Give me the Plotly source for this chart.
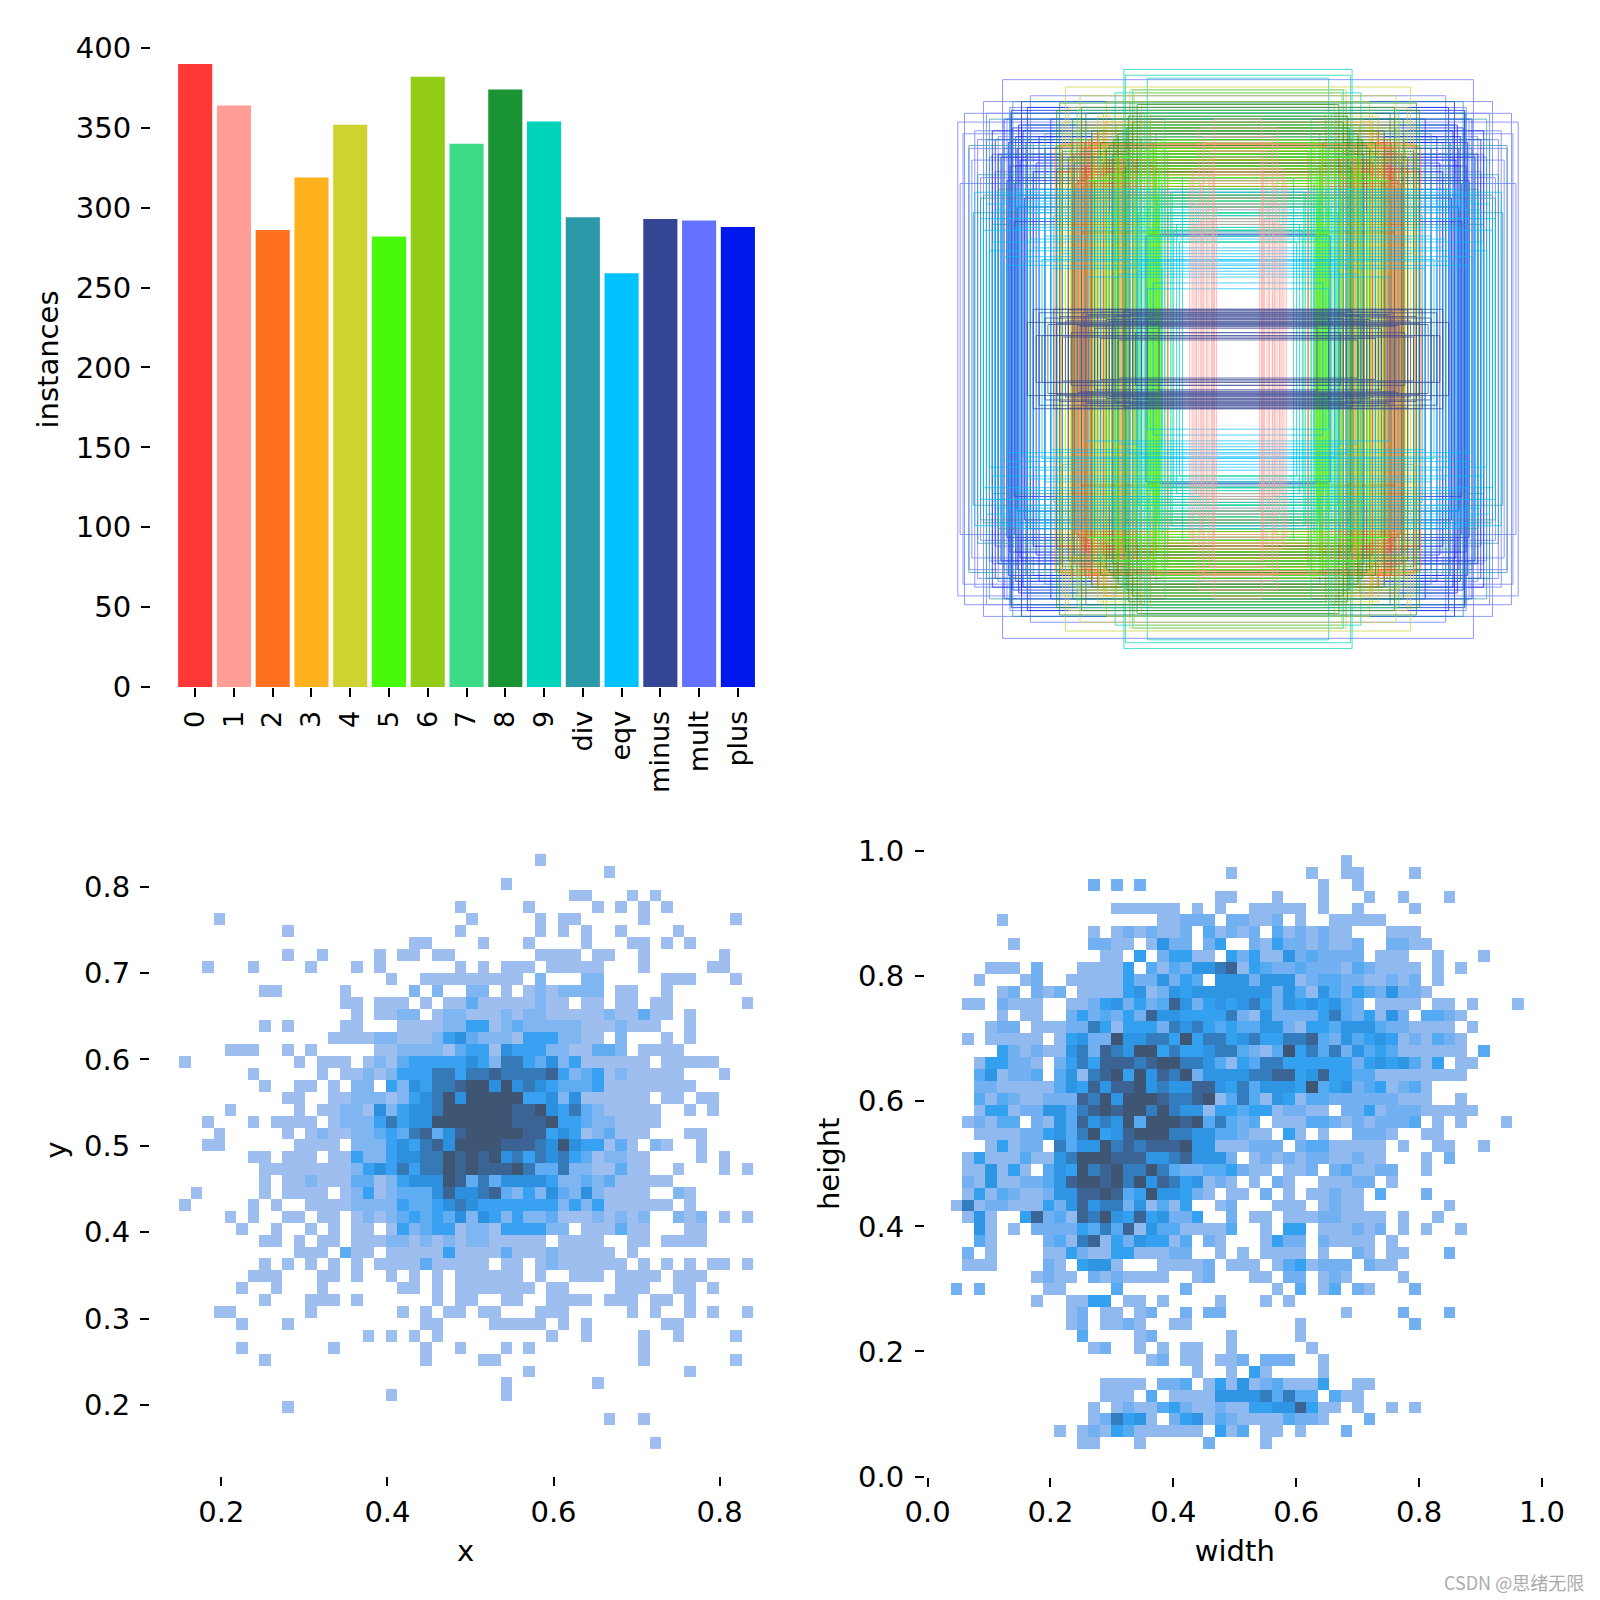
import plotly.graph_objects as go

class_names = ["0","1","2","3","4","5","6","7","8","9","div","eqv","minus","mult","plus"]
instances = [390,364,286,319,352,282,382,340,374,354,294,259,293,292,288]
class_colors = ["#FF3838","#FF9D97","#FF701F","#FFB21D","#CFD231","#48F90A","#92CC17","#3DDB86","#1A9334","#00D4BB","#2C99A8","#00C2FF","#344593","#6473FF","#0018EC"]

# box sizes per class, estimated line by line from the rectangle panel
w_0 = [.505,.52,.535,.55,.56,.53,.51,.545,.44,.47,.39,.515,.525,.56,.48,.36,.43,.54,.50,.58,.33,.41,.555,.46,.37,.525,.62,.29]
h_0 = [.61,.66,.59,.72,.70,.64,.75,.61,.68,.60,.69,.63,.74,.57,.78,.66,.62,.71,.77,.65,.59,.73,.60,.67,.72,.55,.64,.74]
w_1 = [.074,.083,.09,.099,.108,.117,.127,.134,.142,.151,.081,.106,.119,.144,.157,.165,.088,.124]
h_1 = [.52,.64,.48,.71,.55,.74,.60,.79,.53,.63,.82,.51,.76,.46,.65,.61,.69,.47]
w_2 = [.505,.515,.50,.57,.58,.605,.625,.52,.49,.45,.565,.40,.53,.43,.36,.47,.55,.33,.41,.28,.38,.24]
h_2 = [.735,.72,.70,.74,.68,.735,.725,.66,.74,.71,.62,.73,.72,.68,.72,.64,.74,.70,.60,.66,.56,.71]
w_3 = [.565,.58,.60,.44,.42,.40,.455,.61,.37,.55,.48,.345,.52,.43,.39,.50,.31,.27,.46,.35,.24,.41]
h_3 = [.60,.54,.64,.58,.70,.66,.81,.52,.62,.80,.56,.75,.61,.49,.71,.65,.72,.59,.78,.68,.63,.53]
w_4 = [.60,.59,.57,.54,.50,.46,.45,.41,.58,.355,.48,.52,.445,.56,.33,.39,.605,.43,.30,.44,.59,.37]
h_4 = [.81,.93,.78,.90,.76,.84,.88,.73,.86,.91,.83,.79,.69,.72,.87,.75,.70,.82,.85,.66,.63,.92]
w_5 = [.265,.27,.275,.28,.285,.29,.295,.30,.305,.31,.45,.44,.275,.285,.30,.33,.355,.27,.29,.31,.41,.26,.295,.28,.52,.38]
h_5 = [.42,.48,.54,.60,.66,.72,.45,.58,.52,.68,.63,.50,.56,.74,.44,.70,.55,.65,.47,.59,.69,.75,.40,.62,.61,.71]
w_6 = [.49,.48,.475,.47,.495,.41,.42,.415,.60,.455,.485,.50,.43,.465,.54,.39,.61,.36,.57,.47,.33,.405]
h_6 = [.66,.72,.78,.62,.70,.76,.64,.80,.68,.74,.61,.77,.58,.71,.79,.65,.73,.60,.75,.55,.67,.69]
w_7 = [.30,.315,.32,.335,.34,.325,.305,.31,.33,.345,.37,.395,.42,.27,.36,.25,.29,.44,.51,.55,.225,.47]
h_7 = [.44,.52,.84,.76,.50,.49,.72,.80,.54,.62,.70,.78,.58,.66,.74,.82,.50,.48,.61,.85,.57,.69]
w_8 = [.61,.60,.375,.38,.385,.425,.43,.535,.565,.50,.47,.395,.62,.36,.41,.45,.58,.44,.345,.52,.49,.56]
h_8 = [.875,.71,.83,.79,.66,.75,.70,.86,.82,.78,.74,.64,.85,.81,.77,.72,.69,.73,.87,.84,.61,.67]
w_9 = [.39,.385,.37,.36,.335,.26,.24,.22,.20,.31,.28,.345,.39,.30,.25,.19,.42,.23,.33,.21,.35,.27]
h_9 = [.99,.97,.88,.92,.84,.60,.50,.44,.40,.96,.77,.70,.80,.83,.72,.62,.91,.57,.75,.46,.66,.53]
w_div = [.92,.89,.87,.85,.83,.81,.79,.77,.75,.535,.71,.905,.86,.82,.78,.74,.64,.88,.84,.80,.76,.72,.535,.66]
h_div = [.73,.63,.56,.82,.48,.70,.60,.88,.52,.43,.78,.50,.75,.58,.84,.62,.68,.55,.46,.72,.65,.80,.435,.77]
w_eqv = [.90,.88,.86,.84,.82,.80,.78,.76,.735,.72,.70,.68,.66,.64,.62,.60,.87,.83,.79,.75,.71,.67,.63,.85,.81,.33,.345,.29,.37,.41,.47,.52,.31,.26]
h_eqv = [.57,.48,.53,.40,.56,.35,.52,.45,.335,.50,.38,.55,.42,.31,.47,.36,.44,.51,.32,.58,.41,.34,.49,.37,.54,.335,.30,.26,.325,.29,.34,.28,.24,.31]
w_minus = [.27,.31,.35,.39,.43,.47,.51,.55,.59,.63,.67,.70,.72,.33,.37,.41,.45,.49,.53,.57,.61,.65,.69,.44,.52,.60,.58,.66,.48,.36,.62,.42,.54,.68]
h_minus = [.11,.14,.09,.165,.12,.07,.15,.115,.13,.17,.08,.17,.125,.12,.155,.065,.135,.105,.16,.09,.145,.118,.08,.128,.152,.075,.168,.14,.16,.138,.122,.148,.112,.158]
w_mult = [.958,.94,.92,.90,.88,.86,.84,.82,.805,.78,.76,.74,.72,.70,.95,.91,.87,.83,.79,.75,.71,.89,.85,.935]
h_mult = [.81,.77,.72,.78,.62,.84,.70,.76,.955,.86,.66,.80,.58,.74,.60,.68,.88,.64,.82,.56,.90,.75,.69,.84]
w_plus = [.84,.82,.80,.785,.78,.775,.765,.76,.755,.75,.745,.74,.735,.73,.725,.72,.71,.70,.68,.66,.64,.62,.60,.77,.79,.81,.83,.69,.31,.315,.775,.755,.74,.765,.72]
h_plus = [.78,.70,.82,.74,.66,.84,.60,.76,.72,.80,.68,.62,.78,.55,.74,.70,.58,.64,.76,.72,.82,.65,.73,.79,.61,.69,.75,.67,.425,.42,.85,.52,.88,.47,.86]

box_w = [w_0,w_1,w_2,w_3,w_4,w_5,w_6,w_7,w_8,w_9,w_div,w_eqv,w_minus,w_mult,w_plus]
box_h = [h_0,h_1,h_2,h_3,h_4,h_5,h_6,h_7,h_8,h_9,h_div,h_eqv,h_minus,h_mult,h_plus]
draw_order = [13,14,10,9,4,3,0,2,6,8,7,5,11,1,12]

# 2D histograms, 50 rows top to bottom: "startcol:levels" runs, level read from cell shade
xy_rows = [
"31:1","37:1","28:1","34:11 39:1 41:1","24:1 30:1 36:1 38:1 40:1 42:1",
"3:1 25:1 31:1 33:11 40:1 48:1",
"9:1 24:1 31:1 33:1 35:1 38:1 43:1",
"20:11 26:1 30:1 35:1 39:11 42:1 44:1",
"9:1 12:1 17:1 19:11 22:11 31:1111 36:11 40:1 47:1",
"2:1 6:1 11:1 15:1 17:1 24:1 26:1 28:111 32:11111 40:1 46:11",
"18:1 21:111111111 31:2 35:22 42:111 48:1",
"7:11 14:1 20:2 22:2 25:22 28:1 30:12 32:1 33:22 35:22 38:11 42:1",
"14:11 17:111 21:1 23:11 25:3 26:11111 31:2 32:11 35:11 38:11 41:11 49:1",
"15:1 17:11 19:22 22:1 23:22 25:11 27:1 28:2 29:1 30:22 32:1111 36:1211 40:3 41:11 44:1",
"7:1 9:1 14:11 19:1111 23:22 25:44 27:1 28:2 29:3 30:222 33:22 35:1112111 44:1",
"13:1111 17:22 19:111 22:2 23:4 24:5 25:32 27:2 28:2 29:1 30:444 33:2 34:2 35:11 38:2 42:1 44:1",
"4:111 9:1 11:1 17:11 19:2 20:222 23:1 24:344 27:1 28:5 29:4 30:44 32:2 33:21 35:1 36:33 38:2 40:1111",
"0:1 10:1 12:111 16:1 17:2 18:1 19:3 20:4444 24:4 25:5 26:4 27:2 28:66 30:4 31:3 32:5 33:2 34:4 35:1 36:11111 42:11111",
"6:1 12:1 14:11 16:2 17:1 18:2 19:44 21:4 22:66 24:4 25:66 27:7 28:6666 32:7 33:4 34:2 35:3 36:4 37:1 38:2 39:11111 47:1",
"7:1 10:11 13:1 15:22 18:4 19:2 20:5 21:4 22:66 24:7 25:88 27:5 28:8 29:5 30:6 31:5 32:4 33:3 34:3 35:3 36:4 37:1 38:1 39:111111",
"9:11 13:1 14:122 17:212 20:4 21:5 22:6 23:8 24:5 25:888 28:8 29:8 30:4 31:4 32:5 33:2 34:5 35:1 36:1111 40:1 42:11 45:11",
"4:1 10:1 12:11 14:22 16:1 17:5 18:2 19:45 21:5 22:6 23:888888 29:7 30:7 31:8 32:5 33:4 34:6 35:3 36:2 37:11111 44:1 46:1",
"2:1 6:1 8:1111 13:1 14:22 16:2 17:4 18:6 19:4 20:55 22:888888 28:87 30:7 31:7 32:8 33:44 35:3 36:22 38:1111",
"3:1 9:1 11:12 13:11 15:22 17:3 18:4 19:3 20:6 21:7 22:3 23:5 24:7 25:88888 30:77 32:4 33:5 34:4 35:1 36:2 37:3 38:111 44:11",
"2:11 10:1111 15:222 18:4 19:54 21:6 22:7 23:5 24:8888 28:777 31:6 32:5 33:8 34:5 35:44 37:1 38:3 39:1 41:21 45:1",
"6:11 9:11 11:1 13:11 15:4 16:22 18:4 19:55 21:6 22:6 23:8 24:7 25:8 26:7 27:8 28:5 29:6 30:4 31:6 32:5 33:6 34:4 35:3 36:1 37:2 38:2 39:11 45:1 47:1",
"7:1111111 14:12 16:4 17:5 18:4 19:6 20:4 21:6 22:6 23:8 24:7 25:8 26:777 29:8 30:6 31:33 33:6 34:22 36:11 38:3 39:11 43:1 47:1 49:1",
"7:1 9:11 11:2 12:11 14:1 15:3 16:3 17:1 18:2 19:4 20:555 23:8 24:7 25:3 26:6 27:3 28:5555 32:4 33:22 35:3 36:2 37:3 38:11111",
"1:1 7:1 9:1111 14:12 16:4 17:1 18:2 19:333 22:5 23:7 24:5 25:5 26:6 27:7 28:3 29:2 30:4 31:2 32:5 33:3 34:2 35:5 36:2 37:1111 43:21",
"0:1 6:1 8:1 11:111 14:12 16:222 19:4 20:33 22:4 23:5 24:6 25:5 26:44 28:4 29:4 30:444 33:2 34:4 35:2 36:4 37:111111 44:1",
"4:1 6:1 9:11 12:11 15:12 17:1 18:2 19:3 20:4 21:3 22:4 23:3 24:5 25:2 26:5 27:4 28:2 29:4 30:22 32:3 33:111 36:21212 43:212 47:1 49:1",
"5:1 8:1 11:1 13:1 15:11 18:1 19:4 20:2 21:3 22:4 23:4 24:1 25:22 27:1 28:4444 32:2 33:2 35:11 37:1 38:3 39:11 44:11",
"7:11 10:1 12:11 15:11 17:12212 22:1 23:2 24:1 25:22 27:11111 33:1111 39:11 42:1111",
"10:111 14:3 15:11 18:1111 22:1 23:4 24:1111 28:3 29:111 32:21 34:1111 39:1",
"7:1 9:1 11:1 13:1 15:1 17:1111 21:3 22:11111 28:11 31:1 32:2 33:111111 40:1 42:1 44:1 46:11 49:1",
"6:111 12:11 15:1 18:1 20:1 22:1 24:111111 31:1 34:111 38:1111 43:111",
"5:1 8:1 12:1 19:11 22:1 24:1111111 32:11 38:111 43:11 46:1",
"7:1 11:111 15:1 22:1 24:11 28:11 32:1111 37:111 41:11 44:1",
"3:11 11:1 19:1 21:1 23:11 26:11 31:111 39:1 41:1 44:1 46:1 49:1",
"5:1 9:1 21:11 27:11111 33:1 35:1 42:11",
"16:1 18:1 20:1 22:1 32:1 35:1 40:1 43:1 48:1",
"5:1 13:1 21:1 24:1 28:1 30:1 40:1",
"7:1 21:1 26:11 40:1 48:1",
"30:1 44:1","28:1 36:1","18:1 28:1","9:1","37:1 40:1","","41:1",
]
wh_rows = [
"34:1","24:1 31:1 34:11 40:1","12:2 14:2 16:2 32:1 35:1","23:11 28:1 32:1 36:1 39:1 43:1",
"14:111111 21:1 23:1 26:11111 32:1 35:1 40:1",
"4:1 18:11222 24:22 26:11 28:2 30:1 33:11111",
"12:1 14:1212112 22:3 23:1 24:21 26:2 28:3 29:1212 33:11 38:111",
"5:1 12:22 14:11 17:1 18:5 19:22 22:2 23:4 26:2 27:1 28:4 29:22 31:1 32:2 33:11 35:2 38:22 40:11",
"13:11 16:4 18:2 19:44 21:11 24:4 25:2 26:4 27:11 29:5 30:2 31:3 32:2222 37:111 42:1 46:1",
"3:111 7:2 11:11 13:11 15:4 17:3 18:1 19:3 20:2 21:55 23:6 24:7 25:1 26:4 27:3 28:22 30:3 31:222 34:1 35:3 36:2 37:1111 42:1 44:1",
"2:1 6:12 10:11111 15:4 16:22 18:5 19:2 20:4 21:3 23:555 26:2 27:5 28:55 30:1 31:2 32:33 34:22 36:1 37:1212 42:1",
"4:12 7:2 8:12 11:1 12:11 14:1 15:45 17:12 19:5 20:4 21:55 23:5555 27:5 28:2 29:5 30:3 31:1 32:5 33:3 34:2 35:4 36:3 37:2 38:5 39:2 40:2 41:1",
"1:11 4:21 6:11 10:11 12:2 13:4 14:5 15:2 16:4 17:2 18:3 19:7 20:5 21:2 22:454 25:56 27:4 28:2 29:5 30:4 31:5 32:4 33:5 34:3 35:2 37:1111 42:11 45:1 49:1",
"4:1 6:11 10:2 11:4 12:2 13:3 14:2 15:4 16:2 17:7 18:55 20:444 23:4 24:6 25:2 26:1 27:5 28:2 29:222 32:4 33:6 34:3 35:2 36:4 37:1 38:5 39:2 41:33 43:2 44:1",
"3:122 7:111 10:22 12:6 13:4 14:1 15:444 18:2 19:6 20:5 21:6 22:43433 27:55 29:2 30:1 31:44 33:3 34:55 36:5 37:32 39:2 40:1111 45:1",
"1:1 3:11111 9:1 10:45 12:22 14:8 15:5566 19:4 20:8 21:4 22:66 24:4 25:5 26:6 27:44 29:6 30:6 31:7 32:3 33:2 34:5 35:3 36:454 39:1 40:21 42:3 43:2 44:1",
"4:4 5:2121 9:1 10:5 11:6 12:2 13:7 14:6 15:5 16:88 18:4 19:6 20:44 22:5 23:6 24:6 25:3 26:21 28:3 29:8 30:4 31:6 32:3 33:6 34:2 35:5 36:343 39:111 42:111 46:3",
"2:1 3:44 5:22 7:1 9:2 10:4 11:6 12:4 13:77 15:7 16:6 17:7 18:88 20:66 22:5 23:3 24:1 25:4 26:3 27:66 29:4 30:4 31:4444 35:2 36:4545 40:3 41:1 42:4 44:11",
"2:3 3:5 4:12 6:2 7:3 9:3 10:5 11:1 12:6 13:7 14:8 15:4 16:8 17:5 18:7 19:6 20:8 21:2 22:5 23:555 26:6 27:677 30:4 31:5 32:7 33:44 35:33 37:1111 41:1111",
"2:22 4:1 5:1111 9:3 10:5 11:4 12:7 13:5 14:7 15:7 16:8 17:5 18:6 19:55 21:7 22:7 23:5 24:4 25:6 26:3 27:55 29:5 30:4 31:8 32:3 33:45 35:2 36:3 37:4 38:1 39:2 40:3 41:1",
"2:3 3:1 4:3 5:2 6:11 8:222 11:7 12:6 13:8 14:5 15:888 18:7 19:66 21:7 22:8 23:1 24:3 25:6 26:3 27:1 28:5 29:4 30:1 31:3 32:3 33:22 35:22 37:2 38:2 39:111 44:1",
"2:1 3:44 5:1 6:22 8:55 10:3 11:6 12:7 13:8 14:7 15:88 17:6 18:8 19:6 20:5 21:5 22:1 23:44 25:3 26:44 28:1 29:22 31:11 34:22 36:4 37:1 38:222 41:11111",
"1:12 3:1 4:33 7:21 9:5 10:3 11:7 12:5 13:6 14:5 15:8 16:3 17:888 20:7 21:8 22:3 23:6 24:323 28:111 31:33 33:2 34:1 35:2 36:1 37:2 38:22 40:3 42:1 44:1 48:1",
"2:1111 6:22 8:4 9:5 10:3 11:6 12:8 13:4 14:5 15:7 16:888 19:6 20:6 21:55 23:33 25:21 27:1 29:4 30:1 32:1 35:2 36:22 38:1 41:11",
"3:1 4:4 5:12 7:2 9:6 10:3 11:55 13:8 14:6 15:7 16:6 17:777 20:8 21:55 23:1 24:11 26:222 30:2 31:33 33:11111 39:1 42:11 46:1",
"1:1 2:4 3:111 6:3 7:11 9:5 10:6 11:888 14:777 17:55 19:6 20:7 21:555 24:2 26:1 27:2 28:1 29:2 30:1 31:22 33:11 35:2 36:11 41:1 43:2",
"1:11 3:5 4:1 5:4 6:1 8:3 9:5 10:4 11:8 12:6 13:7 14:8 15:66 17:8 18:6 19:3 20:22 22:33 24:4 25:2 26:11 29:11 31:2 33:2 34:3 35:1 36:122 41:1",
"1:2 2:1 3:5 4:1 5:1 6:22 8:3 9:5 10:7 11:88 13:7 14:8 15:6 16:8 17:5 18:7 19:6 20:45 22:1 23:2 24:1 26:1 28:21 32:111 35:22 38:1",
"1:1 2:4 3:1 4:3 5:2 6:11 8:2 9:55 11:77 13:8 14:7 15:3 16:4 17:8 18:55 20:4 21:2 22:1 24:11 27:2 29:1 31:11 33:2 34:11 37:3 41:2",
"0:1 1:6 2:1 3:22 5:111 8:4 9:2 10:5 11:7 12:5 13:66 15:2 16:5 17:1 18:3 19:1 20:4 23:12 28:111 32:12 34:11 43:1",
"1:1 2:5 3:1 6:4 7:7 8:2 9:3 10:1 11:7 12:6 13:8 14:5 15:4 16:7 17:4 18:5 19:22 21:4 24:2 26:11 29:111 32:22 34:11 36:11 39:1 42:1",
"2:5 3:1 5:1 7:2222 11:4 12:3 13:6 14:3 15:7 16:1 17:5 18:33 20:11 22:11 24:3 27:1 29:44 32:111 35:2 36:1 37:2 39:1 41:1 44:1",
"2:3 3:1 8:2 9:3 10:1 11:6 12:7 13:1 14:4 15:2 16:5 17:44 19:1 20:3 22:21 27:1 28:4 29:22 32:2 33:1111 38:1",
"1:2 3:1 8:11 10:4 11:2 12:11 14:44 16:11 18:1 19:22 23:1 25:1 27:1 28:111 32:1 35:2 36:1 38:11 43:2",
"1:111 8:2 9:1 11:4 12:55 14:1 18:1111 22:2 24:111 28:1 29:34 31:1 32:222 36:2 37:11",
"7:1 8:2 9:11 12:2 13:1 14:2 15:1111 21:12 26:11 29:2 30:2 32:1 33:2 34:1 39:1",
"0:2 2:2 8:11 14:3 20:2 28:1 30:3 32:1 33:3 35:2 36:1 40:2",
"7:1 10:11 12:44 15:11 18:1 23:1 27:1 29:1",
"10:1 11:2 13:11 16:1 17:2 20:2 22:22 34:1 39:2 43:2",
"10:1 11:2 13:11 15:2 16:1 19:11 30:1 40:2",
"11:3 16:12 24:1 30:1",
"12:12 16:1 18:1 20:11 24:1 31:1",
"17:12 20:11 23:112 27:222 32:1",
"21:1 24:1 26:4 27:1 32:1",
"13:1111 18:22 20:3 22:1 23:4 24:1 25:5 26:1 27:2 28:3 29:1 30:11 32:4 35:11",
"13:111 17:3 19:1111 23:55 25:55 27:6 28:3 29:6 30:33 33:3 34:1 35:1",
"12:1 14:1 15:2 16:11 18:3 19:4 20:21 22:1 23:2 24:1 25:1 26:44 28:55 30:7 31:4 32:11 35:1 38:1 40:1",
"12:1 13:2 14:6 15:4 16:5 17:1 19:2 20:4 21:5 22:1 23:32 25:1111 29:3 30:22 32:1 36:2",
"9:1 11:1 12:2 13:1 14:4 15:3 16:111111 23:4 24:1 25:3 27:11 30:1 34:2",
"11:11 16:1 22:2 27:1",
]
xy_levels = ["#FFFFFF","#9DBEEE","#7FB5F1","#5FACF3","#38A1F1","#2C90DF","#3579B7","#3B6494","#3E5573"]
wh_levels = ["#FFFFFF","#8FB9EF","#72B0F1","#55AAF2","#34A0F0","#2E94E4","#337DBE","#3B6494","#3E5573"]

xy_ticks_x = [0.2,0.4,0.6,0.8]
xy_ticks_y = [0.2,0.3,0.4,0.5,0.6,0.7,0.8]
wh_ticks = [0.0,0.2,0.4,0.6,0.8,1.0]
bar_ticks_y = [0,50,100,150,200,250,300,350,400]

W = 1600.0
def dx(a, b): return [a / W, b / W]
def dy(top, bottom): return [1 - bottom / W, 1 - top / W]

def grid(rows):
    z = []
    for row in rows:
        cells = [0] * 50
        for run in row.split():
            start, digits = run.split(":")
            for i, d in enumerate(digits):
                cells[int(start) + i] = int(d)
        z.append(cells)
    return z[::-1]

def stepped(levels):
    out = []
    for i, c in enumerate(levels):
        out += [[i / 9, c], [(i + 1) / 9, c]]
    return out

fig = go.Figure()
fig.add_trace(go.Bar(x=list(range(len(class_names))), y=instances, width=0.88,
                     marker=dict(color=class_colors, line_width=0), xaxis="x", yaxis="y"))
for k in draw_order:
    xs, ys = [], []
    for w, h in zip(box_w[k], box_h[k]):
        xs += [.5 - w / 2, .5 + w / 2, .5 + w / 2, .5 - w / 2, .5 - w / 2, None]
        ys += [.5 - h / 2, .5 - h / 2, .5 + h / 2, .5 + h / 2, .5 - h / 2, None]
    fig.add_trace(go.Scatter(x=xs, y=ys, mode="lines", opacity=0.8,
                             line=dict(color=class_colors[k], width=0.9),
                             xaxis="x2", yaxis="y2"))
fig.add_trace(go.Heatmap(z=grid(xy_rows), x0=0.149 + 0.00691, dx=0.01382, y0=0.149 + 0.00689, dy=0.01378,
                         zmin=-0.5, zmax=8.5, colorscale=stepped(xy_levels), showscale=False, xaxis="x3", yaxis="y3"))
fig.add_trace(go.Heatmap(z=grid(wh_rows), x0=0.038 + 0.00932, dx=0.01864, y0=0.0445 + 0.00949, dy=0.01898,
                         zmin=-0.5, zmax=8.5, colorscale=stepped(wh_levels), showscale=False, xaxis="x4", yaxis="y4"))

font = dict(family="DejaVu Sans", size=29, color="black")
common = dict(showgrid=False, zeroline=False, showline=False, ticks="outside", ticklen=9, tickwidth=1.5,
              tickcolor="black", tickfont=font, title_font=font, automargin=False)

fig.update_layout(
    width=1600, height=1600, margin=dict(l=0, r=0, t=0, b=0), showlegend=False,
    paper_bgcolor="white", plot_bgcolor="white",
    xaxis=dict(common, domain=dx(151, 784), range=[-1.14, 15.19], anchor="y", tickvals=list(range(15)),
               ticktext=class_names, tickangle=-90, tickfont=dict(font, size=27), ticklabelstandoff=3),
    yaxis=dict(common, domain=dy(32, 687), range=[0, 410], anchor="x", tickvals=bar_ticks_y,
               ticklabelstandoff=4, title=dict(text="instances", standoff=8)),
    xaxis2=dict(domain=dx(945.5, 1530.5), range=[0, 1], visible=False, anchor="y2"),
    yaxis2=dict(domain=dy(66.5, 651.5), range=[0, 1], visible=False, anchor="x2"),
    xaxis3=dict(common, domain=dx(150, 781), range=[0.114, 0.874], anchor="y3", tickvals=xy_ticks_x,
                tickformat=".1f", ticklabelstandoff=1, title=dict(text="x", standoff=12)),
    yaxis3=dict(common, domain=dy(824, 1476), range=[0.1178, 0.8726], anchor="x3", tickvals=xy_ticks_y,
                tickformat=".1f", ticklabelstandoff=4, title=dict(text="y", standoff=8)),
    xaxis4=dict(common, domain=dx(927.6, 1542), range=[0, 1], anchor="y4", tickvals=wh_ticks,
                tickformat=".1f", ticklabelstandoff=1, title=dict(text="width", standoff=12)),
    yaxis4=dict(common, domain=dy(851, 1476.6), range=[0, 1], anchor="free", position=924 / W,
                tickvals=wh_ticks, tickformat=".1f", ticklabelstandoff=5, title=dict(text="height", standoff=8)),
    annotations=[dict(text="CSDN @思绪无限", xref="paper", yref="paper", x=1586 / W, y=1 - 1582 / W,
                      xanchor="right", yanchor="middle", showarrow=False,
                      font=dict(family="Noto Sans CJK SC", size=18, color="#ABABAB"))],
)
fig.write_html("out.html", config=dict(displayModeBar=False), post_script="document.body.style.margin='0';")
